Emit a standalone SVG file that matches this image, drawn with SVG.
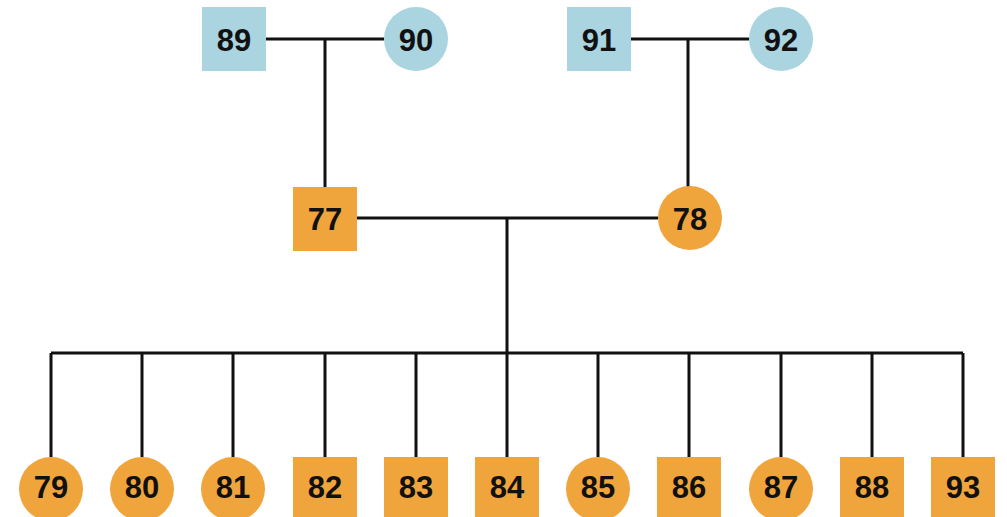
<svg xmlns="http://www.w3.org/2000/svg" width="1007" height="517" viewBox="0 0 1007 517">
<style>
.b{fill:#a9d4e0}
.o{fill:#f0a43c}
.t{font-family:"Liberation Sans",Arial,sans-serif;font-weight:bold;font-size:31px;fill:#111;text-anchor:middle;dominant-baseline:central}
.c{stroke:#111;stroke-width:3;fill:none}
</style>
<rect width="1007" height="517" fill="#fff"/>
<g id="connectors" class="c">
<path d="M266 39H384M325 39V187"/>
<path d="M631 39H749M688 39V187"/>
<path d="M357 218H658M507 218V353"/>
<path d="M51 353H963"/>
<path d="M51 353V457M142 353V457M233 353V457M325 353V457M416 353V457M507 353V457M598 353V457M689 353V457M781 353V457M872 353V457M963 353V457"/>
</g>
<g id="n89"><rect class="b" x="202" y="7" width="64" height="64"/><text class="t" x="234" y="40">89</text></g>
<g id="n90"><circle class="b" cx="416" cy="39" r="32"/><text class="t" x="416" y="40">90</text></g>
<g id="n91"><rect class="b" x="567" y="7" width="64" height="64"/><text class="t" x="599" y="40">91</text></g>
<g id="n92"><circle class="b" cx="781" cy="39" r="32"/><text class="t" x="781" y="40">92</text></g>
<g id="n77"><rect class="o" x="293" y="187" width="64" height="64"/><text class="t" x="325" y="219">77</text></g>
<g id="n78"><circle class="o" cx="690" cy="218" r="32"/><text class="t" x="690" y="219">78</text></g>
<g id="n79"><circle class="o" cx="51" cy="489" r="32"/><text class="t" x="51" y="487">79</text></g>
<g id="n80"><circle class="o" cx="142" cy="489" r="32"/><text class="t" x="142" y="487">80</text></g>
<g id="n81"><circle class="o" cx="233" cy="489" r="32"/><text class="t" x="233" y="487">81</text></g>
<g id="n82"><rect class="o" x="293" y="457" width="64" height="64"/><text class="t" x="325" y="487">82</text></g>
<g id="n83"><rect class="o" x="384" y="457" width="64" height="64"/><text class="t" x="416" y="487">83</text></g>
<g id="n84"><rect class="o" x="475" y="457" width="64" height="64"/><text class="t" x="507" y="487">84</text></g>
<g id="n85"><circle class="o" cx="598" cy="489" r="32"/><text class="t" x="598" y="487">85</text></g>
<g id="n86"><rect class="o" x="657" y="457" width="64" height="64"/><text class="t" x="689" y="487">86</text></g>
<g id="n87"><circle class="o" cx="781" cy="489" r="32"/><text class="t" x="781" y="487">87</text></g>
<g id="n88"><rect class="o" x="840" y="457" width="64" height="64"/><text class="t" x="872" y="487">88</text></g>
<g id="n93"><rect class="o" x="931" y="457" width="64" height="64"/><text class="t" x="963" y="487">93</text></g>
</svg>
